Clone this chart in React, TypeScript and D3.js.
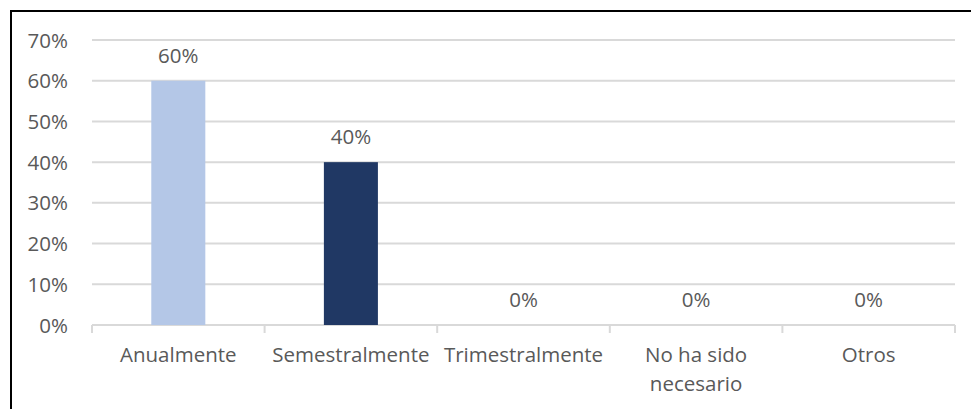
import React, { useEffect, useRef } from "react";
import * as d3 from "d3";

const categories = ["Anualmente", "Semestralmente", "Trimestralmente", "No ha sido necesario", "Otros"];
const values = [0.6, 0.4, 0, 0, 0];
const barColors = ["#B4C7E7", "#203864", "#B4C7E7", "#B4C7E7", "#B4C7E7"];
const yTicks = [0, 0.1, 0.2, 0.3, 0.4, 0.5, 0.6, 0.7];

const W = 971;
const H = 409;
const FONT = "'Open Sans', Lato, sans-serif";
const FS = 20.5;
const TEXT = "#595959";

export default function App() {
  const ref = useRef<SVGSVGElement>(null);

  useEffect(() => {
    const svg = d3.select(ref.current);
    svg.selectAll("*").remove();

    const x = d3.scaleBand<string>().domain(categories).range([92, 955]).padding(0);
    const y = d3.scaleLinear().domain([0, 0.7]).range([325, 40]);
    const barW = x.bandwidth() * 0.313;
    const fmt = d3.format(".0%");

    // frame
    svg.append("rect")
      .attr("x", 11).attr("y", 11)
      .attr("width", W + 20).attr("height", H + 20)
      .attr("fill", "none").attr("stroke", "#000").attr("stroke-width", 2);

    // gridlines
    svg.append("g").selectAll("line").data(yTicks).join("line")
      .attr("x1", 92).attr("x2", 955)
      .attr("y1", (d) => y(d)).attr("y2", (d) => y(d))
      .attr("stroke", "#D9D9D9").attr("stroke-width", 2);

    // category tick marks
    const bounds = categories.map((c) => x(c)!).concat([955]);
    svg.append("g").selectAll("line").data(bounds).join("line")
      .attr("x1", (d) => d).attr("x2", (d) => d)
      .attr("y1", y(0)).attr("y2", y(0) + 8)
      .attr("stroke", "#D9D9D9").attr("stroke-width", 2);

    // y labels
    svg.append("g").selectAll("text").data(yTicks).join("text")
      .attr("x", 68).attr("y", (d) => y(d) + 7.5)
      .attr("text-anchor", "end")
      .attr("font-family", FONT).attr("font-size", FS).attr("fill", TEXT)
      .text((d) => fmt(d));

    // bars
    svg.append("g").selectAll("rect").data(values).join("rect")
      .attr("x", (_, i) => x(categories[i])! + x.bandwidth() / 2 - barW / 2)
      .attr("width", barW)
      .attr("y", (d) => y(d))
      .attr("height", (d) => y(0) - y(d))
      .attr("fill", (_, i) => barColors[i]);

    // data labels
    svg.append("g").selectAll("text").data(values).join("text")
      .attr("x", (_, i) => x(categories[i])! + x.bandwidth() / 2)
      .attr("y", (d) => y(d) - 18)
      .attr("text-anchor", "middle")
      .attr("font-family", FONT).attr("font-size", FS).attr("fill", TEXT)
      .text((d) => fmt(d));

    // category labels with wrapping
    const maxW = x.bandwidth();
    categories.forEach((c) => {
      const cx = x(c)! + x.bandwidth() / 2;
      const t = svg.append("text")
        .attr("x", cx)
        .attr("y", 362)
        .attr("text-anchor", "middle")
        .attr("font-family", FONT).attr("font-size", FS).attr("fill", TEXT);
      const words = c.split(" ");
      let line: string[] = [];
      let tspan = t.append("tspan").attr("x", cx).attr("dy", 0);
      words.forEach((w) => {
        line.push(w);
        tspan.text(line.join(" "));
        if ((tspan.node() as SVGTSpanElement).getComputedTextLength() > maxW && line.length > 1) {
          line.pop();
          tspan.text(line.join(" "));
          line = [w];
          tspan = t.append("tspan").attr("x", cx).attr("dy", 29).text(w);
        }
      });
    });
  }, []);

  return (
    <svg ref={ref} width={W} height={H} style={{ display: "block", position: "absolute", left: 0, top: 0 }} />
  );
}
